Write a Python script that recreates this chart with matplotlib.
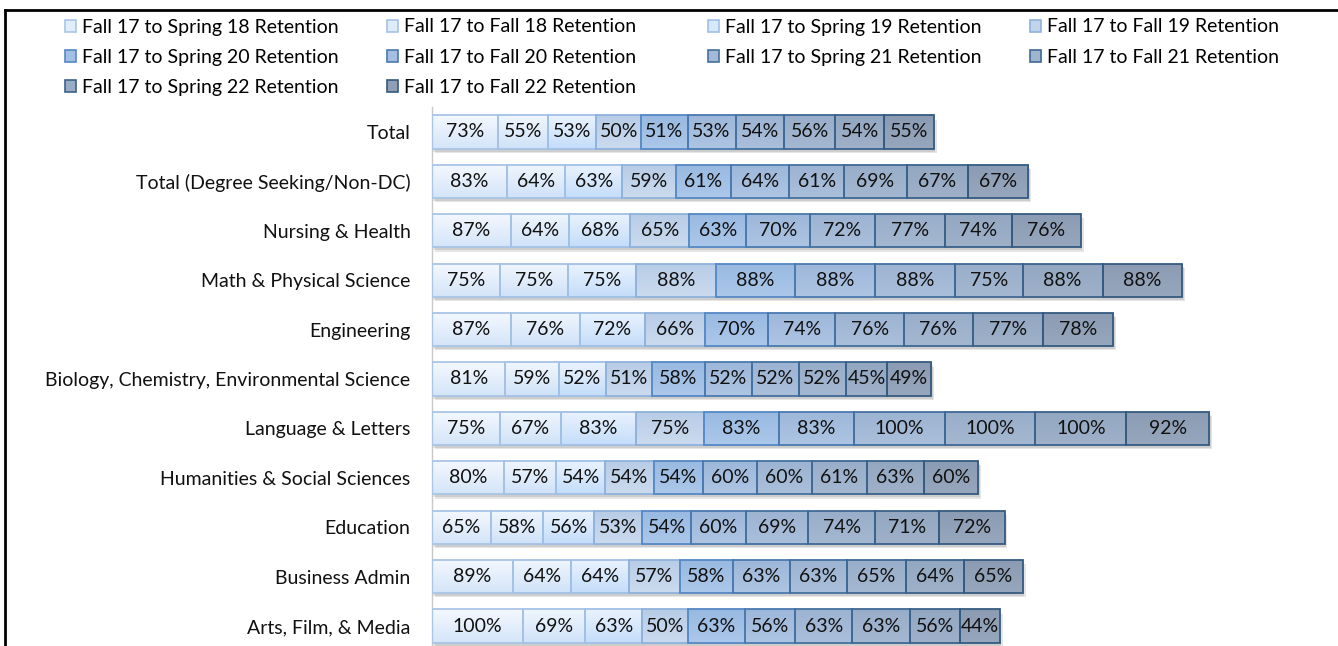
import numpy as np
import matplotlib.pyplot as plt
from matplotlib.patches import Patch
from matplotlib.lines import Line2D
from matplotlib.colors import to_rgb

plt.rcParams['font.family'] = ['Lato', 'DejaVu Sans']

categories = ['Total', 'Total (Degree Seeking/Non-DC)', 'Nursing & Health',
              'Math & Physical Science', 'Engineering',
              'Biology, Chemistry, Environmental Science', 'Language & Letters',
              'Humanities & Social Sciences', 'Education', 'Business Admin',
              'Arts, Film, & Media']

series_names = ['Fall 17 to Spring 18 Retention', 'Fall 17 to Fall 18 Retention',
                'Fall 17 to Spring 19 Retention', 'Fall 17 to Fall 19 Retention',
                'Fall 17 to Spring 20 Retention', 'Fall 17 to Fall 20 Retention',
                'Fall 17 to Spring 21 Retention', 'Fall 17 to Fall 21 Retention',
                'Fall 17 to Spring 22 Retention', 'Fall 17 to Fall 22 Retention']

spring18 = [73, 83, 87, 75, 87, 81, 75, 80, 65, 89, 100]
fall18 = [55, 64, 64, 75, 76, 59, 67, 57, 58, 64, 69]
spring19 = [53, 63, 68, 75, 72, 52, 83, 54, 56, 64, 63]
fall19 = [50, 59, 65, 88, 66, 51, 75, 54, 53, 57, 50]
spring20 = [51, 61, 63, 88, 70, 58, 83, 54, 54, 58, 63]
fall20 = [53, 64, 70, 88, 74, 52, 83, 60, 60, 63, 56]
spring21 = [54, 61, 72, 88, 76, 52, 100, 60, 69, 63, 63]
fall21 = [56, 69, 77, 75, 76, 52, 100, 61, 74, 65, 63]
spring22 = [54, 67, 74, 88, 77, 45, 100, 63, 71, 64, 56]
fall22 = [55, 67, 76, 88, 78, 49, 92, 60, 72, 65, 44]

series = [spring18, fall18, spring19, fall19, spring20,
          fall20, spring21, fall21, spring22, fall22]

# gradient colours (top, bottom) and border per series
tops = ['#f4f8fe', '#f0f6fd', '#eaf3fe', '#b8cce6', '#98b9e1',
        '#9db7da', '#9cb3d2', '#98adc9', '#93a7c1', '#8a9bb3']
bottoms = ['#d4e5f9', '#cfe2f9', '#c4ddfa', '#cbdbef', '#acc8ea',
           '#aec5e3', '#aabfda', '#a5b8d1', '#9fb1c9', '#97a7bd']
mids = ['#e2edfa', '#deebfa', '#d6e8fb', '#c1d4eb', '#a2c0e5',
        '#a6bedf', '#a3b9d6', '#9fb3cd', '#99acc5', '#909fb6']
edges = ['#a9c5e6', '#a5c2e5', '#a0c0e6', '#8fb2dc', '#5588c4',
         '#4a7aae', '#44719f', '#3f6995', '#3a628b', '#355a80']

FS = 14

W, H = 1338, 646
fig = plt.figure(figsize=(W / 100, H / 100), dpi=100)
ax = fig.add_axes([432 / W, -4.7 / H, 888 / W, 543.4 / H])

y = np.arange(len(categories))
bh = 0.67
totals = np.sum(series, axis=0)

# soft drop shadow
ax.barh(y + 0.085, totals, left=3, height=bh, color='#000000', alpha=0.10, lw=0, zorder=1)
ax.barh(y + 0.06, totals, left=1.5, height=bh, color='#000000', alpha=0.10, lw=0, zorder=1)

left = np.zeros(len(categories))
for i, vals in enumerate(series):
    bars = ax.barh(y, vals, left=left, height=bh, facecolor='none',
                   edgecolor=edges[i], lw=1.3, zorder=3)
    t = np.array(to_rgb(tops[i]))
    b = np.array(to_rgb(bottoms[i]))
    grad = np.linspace(0, 1, 64)[:, None, None] * (b - t) + t
    for rect in bars:
        x0, y0 = rect.get_x(), rect.get_y()
        im = ax.imshow(grad, extent=(x0, x0 + rect.get_width(), y0 + bh, y0),
                       origin='upper', aspect='auto', interpolation='bilinear', zorder=2)
        im.set_clip_path(rect)
    ax.bar_label(bars, labels=[f'{v}%' for v in vals], label_type='center',
                 fontsize=FS, color='#111111', zorder=4)
    left += vals

ax.set_xlim(0, 980)
ax.set_ylim(len(categories) - 0.5, -0.5)
ax.set_yticks(y)
ax.set_yticklabels(categories, fontsize=FS, color='#111111')
ax.tick_params(left=False, bottom=False, labelbottom=False, pad=12)
for s in ['top', 'right', 'bottom']:
    ax.spines[s].set_visible(False)
ax.spines['left'].set_color('#c8c8c8')
ax.spines['left'].set_linewidth(1)

# legend: Excel lays it out row-wise in 4 evenly spaced columns
handles = [Patch(facecolor=mids[i], edgecolor=edges[i], lw=1.2) for i in range(10)]
col_x = [65, 387, 708, 1030]
for c in range(4):
    idx = list(range(c, 10, 4))
    fig.legend([handles[k] for k in idx], [series_names[k] for k in idx],
               loc='upper left', bbox_to_anchor=(col_x[c] / W, 1 - 18.5 / H),
               frameon=False, fontsize=FS, borderpad=0, borderaxespad=0,
               handlelength=0.58, handleheight=0.58, handletextpad=0.3,
               labelspacing=0.68)

# chart frame (left and top edges visible)
fig.add_artist(Line2D([5 / W, 5 / W], [0, 1 - 10 / H], color='black', lw=2))
fig.add_artist(Line2D([5 / W, 1], [1 - 10 / H, 1 - 10 / H], color='black', lw=2))

fig.savefig('out.png', dpi=100)
